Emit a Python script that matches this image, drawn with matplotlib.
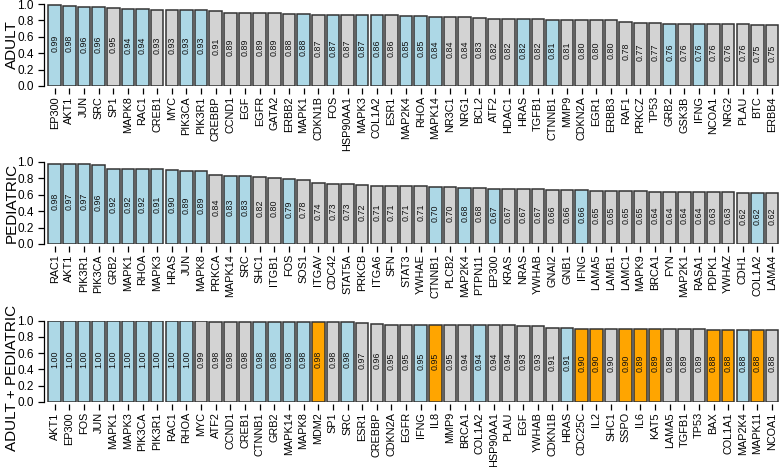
import matplotlib
matplotlib.use("Agg")
import matplotlib.pyplot as plt

plt.rcParams['font.family'] = ['Liberation Sans', 'DejaVu Sans']

# --- data -------------------------------------------------------------
adult_genes = ["EP300", "AKT1", "JUN", "SRC", "SP1", "MAPK8", "RAC1", "CREB1", "MYC", "PIK3CA",
               "PIK3R1", "CREBBP", "CCND1", "EGF", "EGFR", "GATA2", "ERBB2", "MAPK1", "CDKN1B", "FOS",
               "HSP90AA1", "MAPK3", "COL1A2", "ESR1", "MAP2K4", "RHOA", "MAPK14", "NR3C1", "NRG1", "BCL2",
               "ATF2", "HDAC1", "HRAS", "TGFB1", "CTNNB1", "MMP9", "CDKN2A", "EGR1", "ERBB3", "RAF1",
               "PRKCZ", "TP53", "GRB2", "GSK3B", "IFNG", "NCOA1", "NRG2", "PLAU", "BTC", "ERBB4"]
adult_vals = [0.99, 0.98, 0.96, 0.96, 0.95, 0.94, 0.94, 0.93, 0.93, 0.93,
              0.93, 0.91, 0.89, 0.89, 0.89, 0.89, 0.88, 0.88, 0.87, 0.87,
              0.87, 0.87, 0.86, 0.86, 0.85, 0.85, 0.84, 0.84, 0.84, 0.83,
              0.82, 0.82, 0.82, 0.82, 0.81, 0.81, 0.80, 0.80, 0.80, 0.78,
              0.77, 0.77, 0.76, 0.76, 0.76, 0.76, 0.76, 0.76, 0.75, 0.75]
# b = blue, g = gray, o = orange
adult_kind = list("bbbbgbbggb" "bggggggbgb" "gbbgbbbggg" "ggbgbggggg" "ggbgbggggg")

ped_genes = ["RAC1", "AKT1", "PIK3R1", "PIK3CA", "GRB2", "MAPK1", "RHOA", "MAPK3", "HRAS", "JUN",
             "MAPK8", "PRKCA", "MAPK14", "SRC", "SHC1", "ITGB1", "FOS", "SOS1", "ITGAV", "CDC42",
             "STAT5A", "PRKCB", "ITGA6", "SFN", "STAT3", "YWHAE", "CTNNB1", "PLCB2", "MAP2K4", "PTPN11",
             "EP300", "KRAS", "NRAS", "YWHAB", "GNAI2", "GNB1", "IFNG", "LAMA5", "LAMB1", "LAMC1",
             "MAPK9", "BRCA1", "FYN", "MAP2K1", "RASA1", "PDPK1", "YWHAZ", "CDH1", "COL1A2", "LAMA4"]
ped_vals = [0.98, 0.97, 0.97, 0.96, 0.92, 0.92, 0.92, 0.91, 0.90, 0.89,
            0.89, 0.84, 0.83, 0.83, 0.82, 0.80, 0.79, 0.78, 0.74, 0.73,
            0.73, 0.72, 0.71, 0.71, 0.71, 0.71, 0.70, 0.70, 0.68, 0.68,
            0.67, 0.67, 0.67, 0.67, 0.66, 0.66, 0.66, 0.65, 0.65, 0.65,
            0.65, 0.64, 0.64, 0.64, 0.64, 0.63, 0.63, 0.62, 0.62, 0.62]
ped_kind = list("bbbbbbbbbb" "bgbbggbggg" "ggggggbgbg" "bgggggbggg" "ggggggggbg")

both_genes = ["AKT1", "EP300", "FOS", "JUN", "MAPK1", "MAPK3", "PIK3CA", "PIK3R1", "RAC1", "RHOA",
              "MYC", "ATF2", "CCND1", "CREB1", "CTNNB1", "GRB2", "MAPK14", "MAPK8", "MDM2", "SP1",
              "SRC", "ESR1", "CREBBP", "CDKN2A", "EGFR", "IFNG", "IL8", "MMP9", "BRCA1", "COL1A2",
              "HSP90AA1", "PLAU", "EGF", "YWHAB", "CDKN1B", "HRAS", "CDC25C", "IL2", "SHC1", "SSPO",
              "IL6", "KAT5", "LAMA5", "TGFB1", "TP53", "BAX", "COL1A1", "MAP2K4", "MAPK11", "NCOA1"]
both_vals = [1.00, 1.00, 1.00, 1.00, 1.00, 1.00, 1.00, 1.00, 1.00, 1.00,
             0.99, 0.98, 0.98, 0.98, 0.98, 0.98, 0.98, 0.98, 0.98, 0.98,
             0.98, 0.97, 0.96, 0.95, 0.95, 0.95, 0.95, 0.95, 0.94, 0.94,
             0.94, 0.94, 0.93, 0.93, 0.91, 0.91, 0.90, 0.90, 0.90, 0.90,
             0.89, 0.89, 0.89, 0.89, 0.89, 0.88, 0.88, 0.88, 0.88, 0.88]
both_kind = list("bbbbbbbbbb" "ggggbbbbog" "bggggboggb" "gggggboogo" "oogggoobog")

colors = {"b": "#ADD8E6", "g": "#D3D3D3", "o": "#FFA500"}

panels = [
    ("ADULT", adult_genes, adult_vals, adult_kind, 4, 86, 45),
    ("PEDIATRIC", ped_genes, ped_vals, ped_kind, 162, 244, 203),
    ("ADULT + PEDIATRIC", both_genes, both_vals, both_kind, 320.5, 402, 378),
]

W, H = 779, 467
fig = plt.figure(figsize=(W / 100, H / 100), dpi=100)

left_px, right_px = 44, 779
for title, genes, vals, kind, top_px, bot_px, lab_y in panels:
    ax = fig.add_axes([left_px / W, 1 - bot_px / H, (right_px - left_px) / W, (bot_px - top_px) / H])
    x = list(range(len(genes)))
    ax.bar(x, vals, width=0.86, color=[colors[k] for k in kind],
           edgecolor="#333333", linewidth=1.1, zorder=2)
    for xi, v in zip(x, vals):
        ax.text(xi, v / 2 + 0.03, f"{v:.2f}", rotation=90, ha="center", va="center",
                fontsize=6.4, color="#111111", zorder=3)
    ax.set_xlim(-0.73, 49.47)
    ax.set_ylim(0, 1)
    ax.set_xticks(x)
    ax.set_xticklabels(genes)
    ax.set_yticks([0, 0.2, 0.4, 0.6, 0.8, 1.0])
    ax.set_yticklabels(["0.0", "0.2", "0.4", "0.6", "0.8", "1.0"])
    ax.tick_params(axis="x", length=4.3, width=0.9, pad=1.5, labelrotation=90, labelsize=7.8)
    ax.tick_params(axis="y", length=4.3, width=0.9, pad=3, labelsize=8.5)
    for s in ["top", "right"]:
        ax.spines[s].set_visible(False)
    ax.spines["bottom"].set_position(("outward", 1.5))
    ax.spines["bottom"].set_visible(False)
    ax.spines["left"].set_bounds(0, 1)
    ax.spines["left"].set_linewidth(0.9)
    ax.patch.set_alpha(0)
    fig.text(12 / W, 1 - lab_y / H, title, rotation=90, ha="center", va="center", fontsize=11)

fig.savefig("out.png", dpi=100)
